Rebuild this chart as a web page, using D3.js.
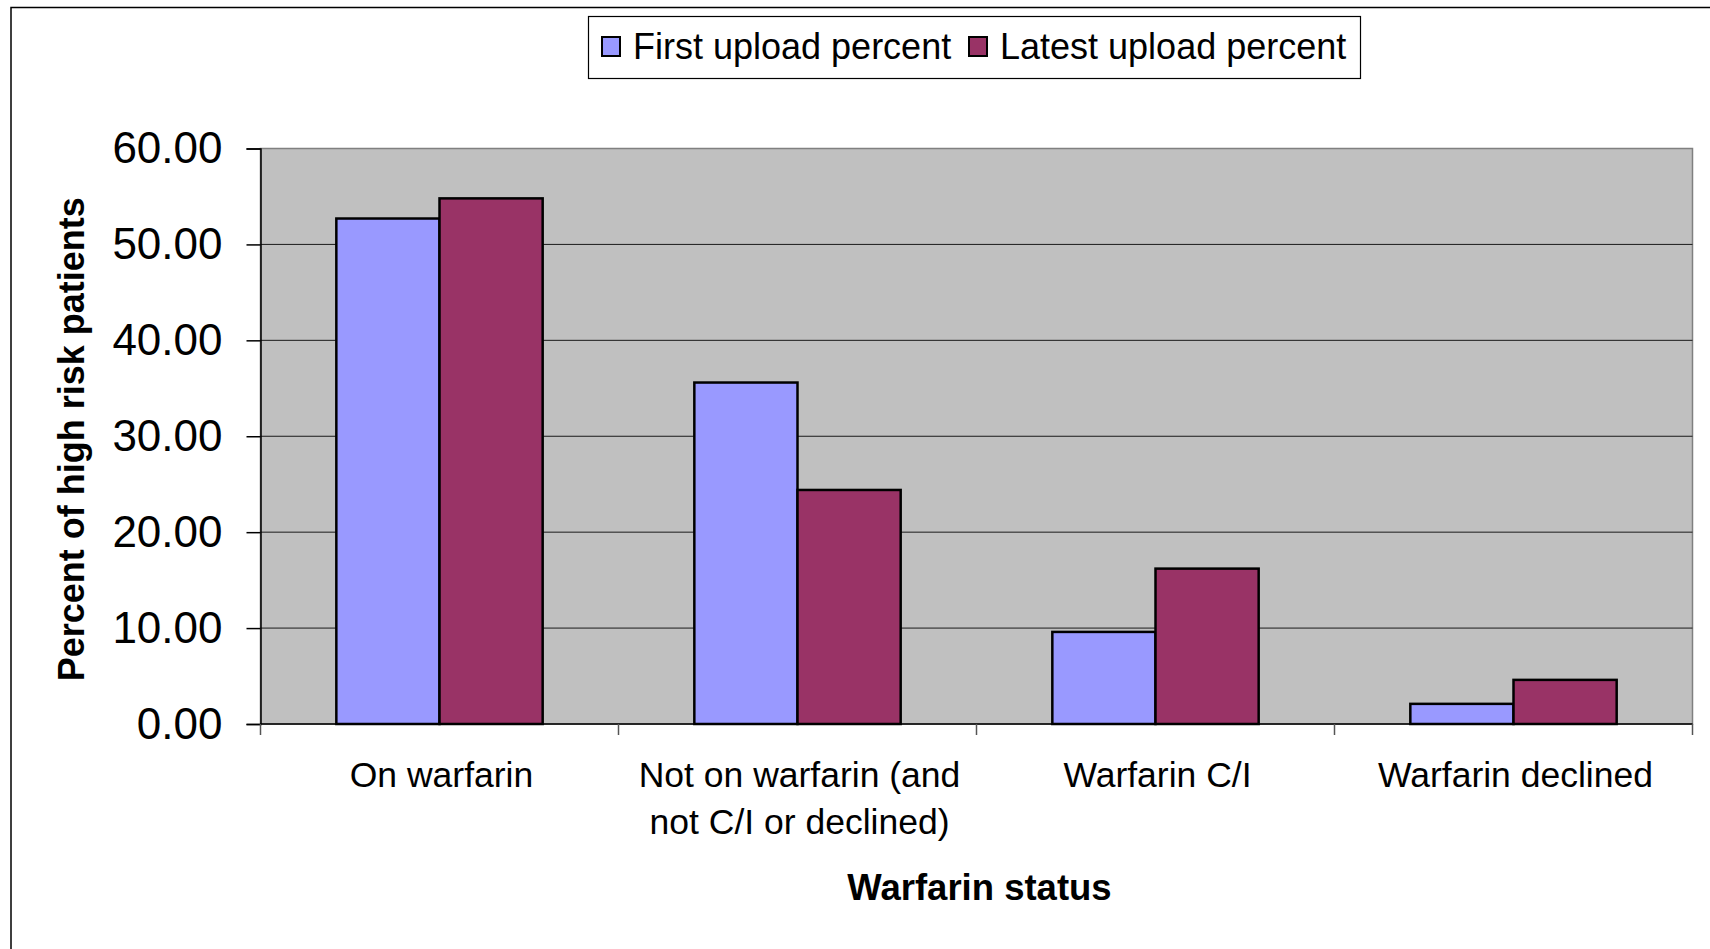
<!DOCTYPE html>
<html>
<head>
<meta charset="utf-8">
<script src="https://cdn.jsdelivr.net/npm/d3@7"></script>
<style>
  html, body { margin: 0; padding: 0; background: #fff; }
  svg { display: block; font-family: "Liberation Sans", Arial, sans-serif; }
</style>
</head>
<body>
<svg id="chart" width="1710" height="949"></svg>
<script>
// Warfarin status among high risk patients, first vs latest upload
const categories = [
  ["On warfarin"],
  ["Not on warfarin (and", "not C/I or declined)"],
  ["Warfarin C/I"],
  ["Warfarin declined"]
];
const seriesNames = ["First upload percent", "Latest upload percent"];
const firstUpload = [52.7, 35.6, 9.6, 2.1];
const latestUpload = [54.8, 24.4, 16.2, 4.6];
const yTicks = [0, 10, 20, 30, 40, 50, 60];
const seriesColors = ["#9999FF", "#993366"];

const svg = d3.select("#chart");
const W = 1710, H = 949;
const plot = { left: 260.5, right: 1692.5, top: 148.5, bottom: 724 };

const catKeys = categories.map(c => c.join(" "));
const x0 = d3.scaleBand().domain(catKeys).range([plot.left, plot.right]).padding(0);
const x1 = d3.scaleBand().domain(seriesNames).range([0, x0.bandwidth()])
  .paddingInner(0).paddingOuter(0.735);
const y = d3.scaleLinear().domain([0, 60]).range([plot.bottom, plot.top]);

// outer chart frame (extends past the right and bottom edges)
svg.append("rect")
  .attr("x", 11).attr("y", 7.5)
  .attr("width", W + 20).attr("height", H + 20)
  .attr("fill", "#fff").attr("stroke", "#000").attr("stroke-width", 1.5);

// plot area background
svg.append("rect")
  .attr("x", plot.left).attr("y", plot.top)
  .attr("width", plot.right - plot.left).attr("height", plot.bottom - plot.top)
  .attr("fill", "#C0C0C0").attr("stroke", "#808080").attr("stroke-width", 1.5);

// horizontal gridlines
svg.append("g").selectAll("line")
  .data(yTicks.filter(t => t > 0 && t < 60))
  .join("line")
  .attr("x1", plot.left).attr("x2", plot.right)
  .attr("y1", d => y(d)).attr("y2", d => y(d))
  .attr("stroke", "#1a1a1a").attr("stroke-width", 1);

// y axis
const yAxis = d3.axisLeft(y).tickValues(yTicks).tickFormat(d3.format(".2f"))
  .tickSize(14).tickPadding(24);
const gy = svg.append("g").attr("transform", `translate(${plot.left},0)`).call(yAxis);
gy.select(".domain").attr("stroke", "#000").attr("stroke-width", 1.5);
gy.selectAll(".tick line").attr("stroke", "#000").attr("stroke-width", 1.5);
gy.selectAll(".tick text")
  .attr("font-size", 44).attr("fill", "#000")
  .attr("font-family", "'Liberation Sans', Arial, sans-serif");

// x axis line and category boundary ticks
svg.append("line")
  .attr("x1", plot.left).attr("x2", plot.right)
  .attr("y1", plot.bottom).attr("y2", plot.bottom)
  .attr("stroke", "#000").attr("stroke-width", 1.5);
const boundaries = catKeys.map(k => x0(k)).concat([plot.right]);
svg.append("g").selectAll("line")
  .data(boundaries)
  .join("line")
  .attr("x1", d => d).attr("x2", d => d)
  .attr("y1", plot.bottom).attr("y2", plot.bottom + 11)
  .attr("stroke", "#555").attr("stroke-width", 1.5);

// bars
const rows = catKeys.map((k, i) => ({ key: k, values: [firstUpload[i], latestUpload[i]] }));
const groups = svg.append("g").selectAll("g")
  .data(rows).join("g")
  .attr("transform", d => `translate(${x0(d.key)},0)`);
groups.selectAll("rect")
  .data(d => d.values.map((v, j) => ({ series: seriesNames[j], value: v, j })))
  .join("rect")
  .attr("x", d => x1(d.series))
  .attr("y", d => y(d.value))
  .attr("width", x1.bandwidth())
  .attr("height", d => y(0) - y(d.value))
  .attr("fill", d => seriesColors[d.j])
  .attr("stroke", "#000").attr("stroke-width", 2.5);

// category labels
const catLabels = svg.append("g").selectAll("text")
  .data(categories)
  .join("text")
  .attr("x", (d, i) => x0(catKeys[i]) + x0.bandwidth() / 2 + 2)
  .attr("y", 787)
  .attr("text-anchor", "middle")
  .attr("font-size", 35.5)
  .attr("fill", "#000");
catLabels.selectAll("tspan")
  .data(d => d)
  .join("tspan")
  .attr("x", function() { return d3.select(this.parentNode).attr("x"); })
  .attr("dy", (d, i) => i === 0 ? 0 : 47)
  .text(d => d);

// axis titles
svg.append("text")
  .attr("x", (plot.left + plot.right) / 2 + 3).attr("y", 900)
  .attr("text-anchor", "middle")
  .attr("font-size", 36.5).attr("font-weight", "bold")
  .text("Warfarin status");

svg.append("text")
  .attr("transform", `translate(84,${(plot.top + plot.bottom) / 2 + 3}) rotate(-90)`)
  .attr("text-anchor", "middle")
  .attr("font-size", 36).attr("font-weight", "bold")
  .text("Percent of high risk patients");

// legend
const legend = svg.append("g");
legend.append("rect")
  .attr("x", 588.5).attr("y", 16.5).attr("width", 772).attr("height", 62)
  .attr("fill", "#fff").attr("stroke", "#000").attr("stroke-width", 1.2);
const legendItems = [
  { name: seriesNames[0], color: seriesColors[0], sx: 602, tx: 633 },
  { name: seriesNames[1], color: seriesColors[1], sx: 969, tx: 1000 }
];
legendItems.forEach(it => {
  legend.append("rect")
    .attr("x", it.sx).attr("y", 37).attr("width", 18).attr("height", 19)
    .attr("fill", it.color).attr("stroke", "#000").attr("stroke-width", 2);
  legend.append("text")
    .attr("x", it.tx).attr("y", 59)
    .attr("font-size", 36).attr("fill", "#000")
    .text(it.name);
});
</script>
</body>
</html>
